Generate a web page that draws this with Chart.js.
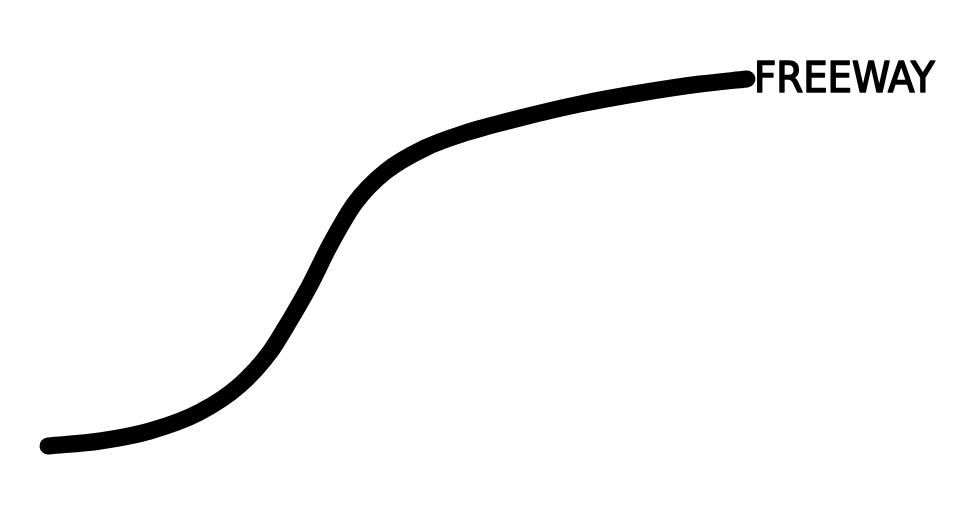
<!DOCTYPE html>
<html>
<head>
<meta charset="utf-8">
<style>
  html, body { margin: 0; padding: 0; background: #fff; }
  #wrap { width: 980px; height: 523px; }
</style>
<script src="https://cdn.jsdelivr.net/npm/chart.js@4/dist/chart.umd.min.js"></script>
</head>
<body>
<div id="wrap"><canvas id="roadChart"></canvas></div>
<script>
// curve (x across, y up)
const xs = [48, 100, 150, 200, 240, 270, 290, 310, 330, 355, 385, 425, 465, 520, 580, 640, 700, 747];
const ys = [77, 82, 92, 111, 138, 171, 203, 238, 278, 320, 351, 375, 390, 405, 419, 430, 439, 444];
const label = 'FREEWAY';

const points = xs.map(function(x, i){ return { x: x, y: ys[i] }; });

const endLabel = {
    id: 'endLabel',
    afterDatasetsDraw: function(chart){
        const meta = chart.getDatasetMeta(0);
        const last = meta.data[meta.data.length - 1];
        const ctx = chart.ctx;
        ctx.save();
        ctx.fillStyle = '#000';
        ctx.strokeStyle = '#000';
        ctx.lineWidth = 1.6;
        ctx.lineJoin = 'round';
        ctx.font = '43px "DejaVu Sans Condensed", "DejaVu Sans", sans-serif';
        ctx.textBaseline = 'middle';
        ctx.textAlign = 'left';
        ctx.fillText(label, last.x + 7, last.y + 2);
        ctx.strokeText(label, last.x + 7, last.y + 2);
        ctx.restore();
    }
};

new Chart(document.getElementById('roadChart'), {
    type: 'line',
    data: {
        datasets: [{
            data: points,
            borderColor: '#000',
            borderWidth: 17,
            borderCapStyle: 'round',
            borderJoinStyle: 'round',
            pointRadius: 0,
            cubicInterpolationMode: 'monotone',
            fill: false
        }]
    },
    options: {
        animation: false,
        responsive: true,
        maintainAspectRatio: false,
        layout: { padding: 0 },
        plugins: { legend: { display: false }, tooltip: { enabled: false } },
        scales: {
            x: { type: 'linear', min: 0, max: 980, display: false },
            y: { type: 'linear', min: 0, max: 523, display: false }
        }
    },
    plugins: [endLabel]
});
</script>
</body>
</html>
